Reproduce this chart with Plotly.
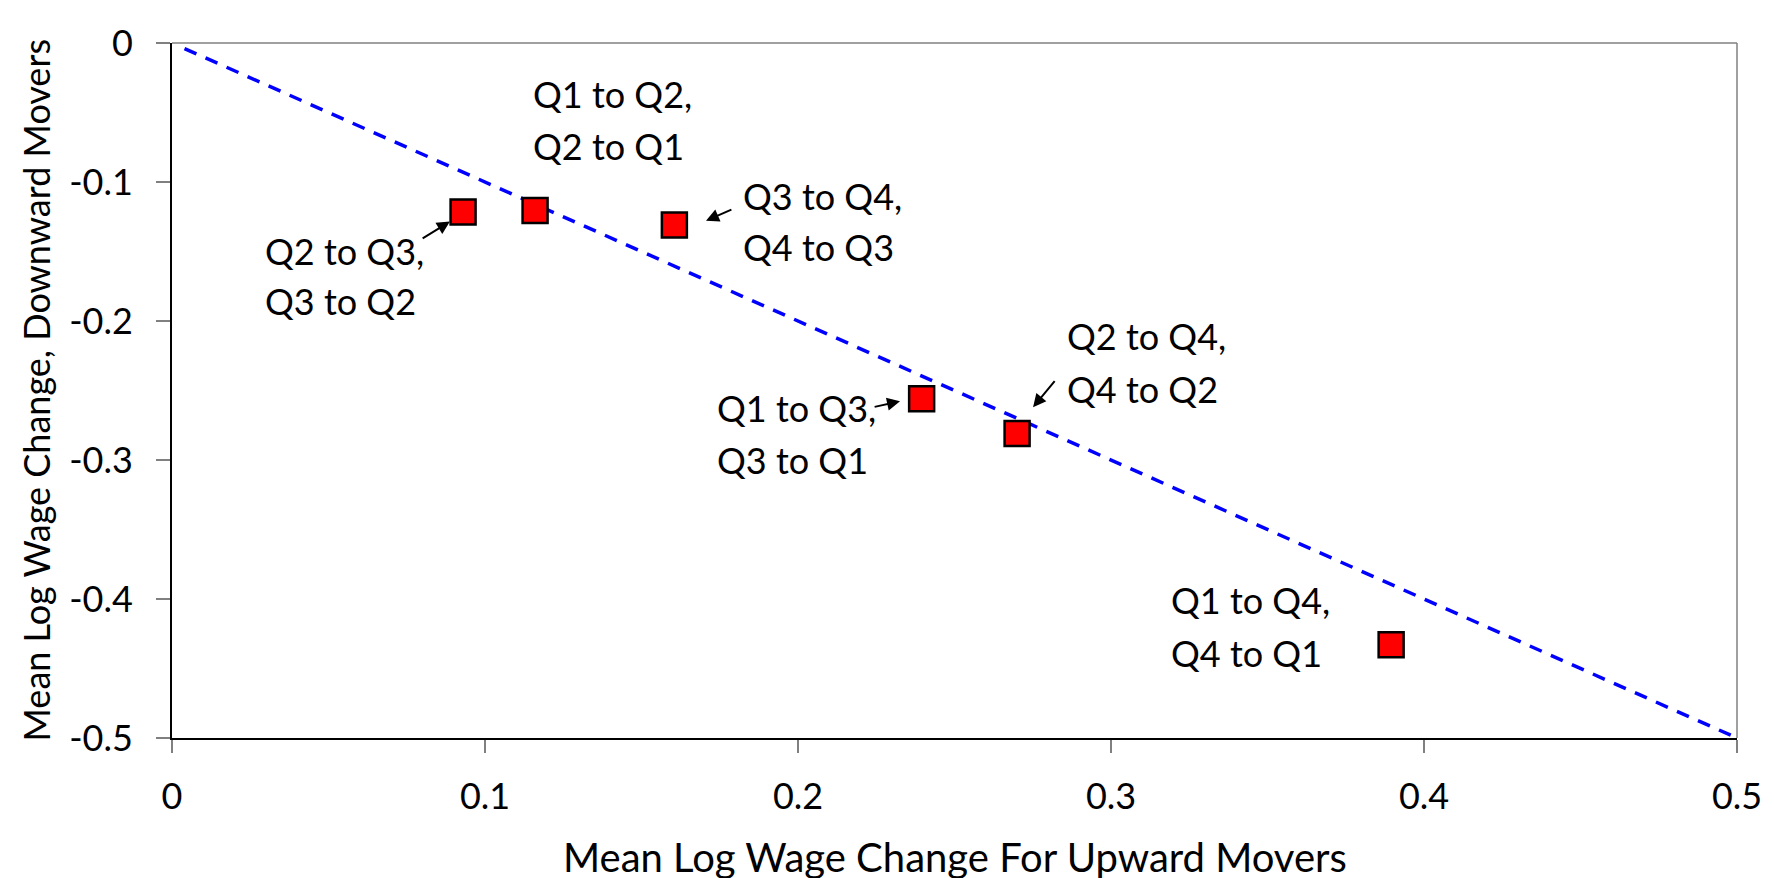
import plotly.graph_objects as go

# ---- data ----
up_change = [0.093, 0.116, 0.1605, 0.2395, 0.270, 0.3895]
down_change = [-0.1215, -0.1205, -0.131, -0.256, -0.281, -0.433]
pair_line1 = ["Q2 to Q3,", "Q1 to Q2,", "Q3 to Q4,", "Q1 to Q3,", "Q2 to Q4,", "Q1 to Q4,"]
pair_line2 = ["Q3 to Q2", "Q2 to Q1", "Q4 to Q3", "Q3 to Q1", "Q4 to Q2", "Q4 to Q1"]
ref_x = [0.004, 0.498]
ref_y = [-0.004, -0.498]
x_ticks = [0, 0.1, 0.2, 0.3, 0.4, 0.5]
x_ticktext = ["0", "0.1", "0.2", "0.3", "0.4", "0.5"]
y_ticks = [0, -0.1, -0.2, -0.3, -0.4, -0.5]
y_ticktext = ["0", "-0.1", "-0.2", "-0.3", "-0.4", "-0.5"]

# label placement (left edge x, line1 y, line2 y) in data units, plus arrows (head, tail)
label_pos = [
    (0.0291, -0.1497, -0.1857),
    (0.1147, -0.0367, -0.0742),
    (0.1818, -0.1102, -0.1469),
    (0.1735, -0.2627, -0.3001),
    (0.2853, -0.2105, -0.2486),
    (0.3185, -0.4005, -0.4390),
]
arrows = [
    ((0.0888, -0.1285), (0.0796, -0.1412)),
    None,
    ((0.1706, -0.1278), (0.1792, -0.1194)),
    ((0.2326, -0.2578), (0.2240, -0.2620)),
    ((0.2751, -0.2620), (0.2824, -0.2422)),
    None,
]

FONT = "Lato, 'Open Sans', sans-serif"
FS = 36

fig = go.Figure()
fig.add_trace(go.Scatter(
    x=ref_x, y=ref_y, mode="lines",
    line=dict(color="#0000FF", width=3.5, dash="13px,10px"),
    hoverinfo="skip", showlegend=False,
))
fig.add_trace(go.Scatter(
    x=up_change, y=down_change, mode="markers",
    marker=dict(symbol="square", size=25, color="#FF0000",
                line=dict(color="#000000", width=2.5)),
    showlegend=False,
))

annotations = []
for (lx, ly1, ly2), t1, t2 in zip(label_pos, pair_line1, pair_line2):
    for ly, t in ((ly1, t1), (ly2, t2)):
        annotations.append(dict(
            x=lx, y=ly, xref="x", yref="y", text=t, showarrow=False,
            xanchor="left", yanchor="middle",
            font=dict(family=FONT, size=FS, color="#000000"),
        ))
for a in arrows:
    if a is None:
        continue
    (hx, hy), (tx, ty) = a
    annotations.append(dict(
        x=hx, y=hy, xref="x", yref="y", ax=tx, ay=ty, axref="x", ayref="y",
        text="", showarrow=True, arrowhead=2, arrowsize=1.3, arrowwidth=2,
        arrowcolor="#000000", standoff=0,
    ))

# axis titles
annotations.append(dict(
    x=0.5, y=0, xref="paper", yref="paper", yshift=-119,
    text="Mean Log Wage Change For Upward Movers", showarrow=False,
    xanchor="center", yanchor="middle",
    font=dict(family=FONT, size=40, color="#000000"),
))
annotations.append(dict(
    x=0, y=0.5, xref="paper", yref="paper", xshift=-137,
    text="Mean Log Wage Change, Downward Movers", showarrow=False,
    xanchor="center", yanchor="middle", textangle=-90,
    font=dict(family=FONT, size=FS, color="#000000"),
))

fig.update_layout(
    width=1774, height=878,
    margin=dict(l=164, r=45, t=22, b=148),
    paper_bgcolor="white", plot_bgcolor="white",
    annotations=annotations,
    shapes=[
        dict(type="line", xref="paper", yref="paper", x0=0, x1=1, y0=1, y1=1,
             line=dict(color="#808080", width=1.5), layer="below"),
        dict(type="line", xref="paper", yref="paper", x0=1, x1=1, y0=0, y1=1,
             line=dict(color="#808080", width=1.5), layer="below"),
    ],
    xaxis=dict(
        range=[0, 0.5], tickvals=x_ticks, ticktext=x_ticktext,
        showgrid=False, zeroline=False,
        showline=True, linecolor="#000000", linewidth=2,
        ticks="outside", ticklen=13, tickwidth=1.5, tickcolor="#808080",
        ticklabelstandoff=13, ticklabeloverflow="allow",
        tickfont=dict(family=FONT, size=FS, color="#000000"),
    ),
    yaxis=dict(
        range=[-0.5, 0], tickvals=y_ticks, ticktext=y_ticktext,
        showgrid=False, zeroline=False,
        showline=True, linecolor="#000000", linewidth=2,
        ticks="outside", ticklen=14, tickwidth=1.5, tickcolor="#808080",
        ticklabelstandoff=16, ticklabeloverflow="allow",
        tickfont=dict(family=FONT, size=FS, color="#000000"),
    ),
)

fig.write_html("out.html")
